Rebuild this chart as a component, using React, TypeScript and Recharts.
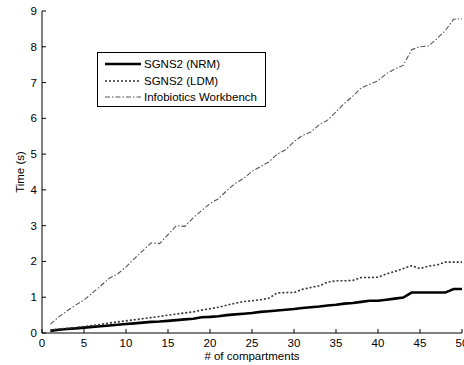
import { Legend, Line, LineChart, XAxis, YAxis } from "recharts";

const compartments = [
  1, 2, 3, 4, 5, 6, 7, 8, 9, 10, 11, 12, 13, 14, 15, 16, 17, 18, 19, 20, 21, 22, 23, 24, 25,
  26, 27, 28, 29, 30, 31, 32, 33, 34, 35, 36, 37, 38, 39, 40, 41, 42, 43, 44, 45, 46, 47, 48, 49, 50,
];

const nrm = [
  0.06, 0.09, 0.11, 0.13, 0.15, 0.17, 0.19, 0.21, 0.23, 0.25, 0.27, 0.29, 0.31, 0.32, 0.34, 0.36, 0.38,
  0.4, 0.44, 0.45, 0.47, 0.5, 0.52, 0.54, 0.56, 0.59, 0.61, 0.63, 0.65, 0.67, 0.7, 0.72, 0.74, 0.77, 0.79,
  0.82, 0.84, 0.87, 0.9, 0.9, 0.93, 0.96, 0.99, 1.13, 1.13, 1.13, 1.13, 1.13, 1.23, 1.23,
];

const ldm = [
  0.08, 0.11, 0.13, 0.15, 0.18, 0.21, 0.24, 0.28, 0.31, 0.34, 0.37, 0.4, 0.43, 0.46, 0.5, 0.53, 0.56,
  0.59, 0.64, 0.68, 0.72, 0.78, 0.83, 0.88, 0.9, 0.93, 0.97, 1.12, 1.13, 1.13, 1.22, 1.27, 1.32, 1.42, 1.46,
  1.46, 1.47, 1.55, 1.55, 1.56, 1.65, 1.72, 1.8, 1.88, 1.8, 1.87, 1.9, 1.98, 1.98, 1.98,
];

const infobiotics = [
  0.25, 0.45, 0.62, 0.78, 0.92, 1.12, 1.32, 1.53, 1.65, 1.85, 2.08, 2.3, 2.52, 2.5, 2.75, 3.0, 2.98,
  3.22, 3.42, 3.62, 3.75, 3.98, 4.18, 4.32, 4.52, 4.65, 4.78, 5.0, 5.12, 5.35, 5.52, 5.62, 5.82, 5.95, 6.18,
  6.42, 6.62, 6.85, 6.95, 7.05, 7.25, 7.38, 7.48, 7.92, 8.0, 8.02, 8.22, 8.45, 8.77, 8.78,
];

const seriesNames = ["SGNS2 (NRM)", "SGNS2 (LDM)", "Infobiotics Workbench"];
const xTicks = [0, 5, 10, 15, 20, 25, 30, 35, 40, 45, 50];
const yTicks = [0, 1, 2, 3, 4, 5, 6, 7, 8, 9];

const data = compartments.map((n, i) => ({
  n,
  nrm: nrm[i],
  ldm: ldm[i],
  iwb: infobiotics[i],
}));

const FONT = "'Liberation Sans', Arial, sans-serif";
const TICK_LEN = 4;

const seriesStyle: Record<string, { stroke: string; width: number; dash?: string }> = {
  "SGNS2 (NRM)": { stroke: "#000", width: 2.6 },
  "SGNS2 (LDM)": { stroke: "#333", width: 1.6, dash: "2 2" },
  "Infobiotics Workbench": { stroke: "#555", width: 1.1, dash: "5 2 1.5 2" },
};

function BottomTick({ x, y, payload }: any) {
  return (
    <g>
      <line x1={x} x2={x} y1={y} y2={y - TICK_LEN} stroke="#000" />
      <text x={x} y={y + 14} textAnchor="middle" fontSize={11.5} fontFamily={FONT} fill="#000">
        {payload.value}
      </text>
    </g>
  );
}

function TopTick({ x, y }: any) {
  return <line x1={x} x2={x} y1={y} y2={y + TICK_LEN} stroke="#000" />;
}

function LeftTick({ x, y, payload }: any) {
  return (
    <g>
      <line x1={x} x2={x + TICK_LEN} y1={y} y2={y} stroke="#000" />
      <text x={x - 5} y={y + 4} textAnchor="end" fontSize={11.5} fontFamily={FONT} fill="#000">
        {payload.value}
      </text>
    </g>
  );
}

function RightTick({ x, y }: any) {
  return <line x1={x} x2={x - TICK_LEN} y1={y} y2={y} stroke="#000" />;
}

function LegendBox({ payload }: any) {
  const items = [...(payload ?? [])].sort(
    (a: any, b: any) => seriesNames.indexOf(a.value) - seriesNames.indexOf(b.value)
  );
  return (
    <div
      style={{
        border: "1.5px solid #000",
        background: "#fff",
        padding: "3px 0 3px 7px",
        fontFamily: FONT,
        fontSize: 11.5,
        boxSizing: "border-box",
        width: 169,
        height: 55,
      }}
    >
      {items.map((p: any) => {
        const s = seriesStyle[p.value];
        return (
          <div key={p.value} style={{ display: "flex", alignItems: "center", height: 16.5 }}>
            <svg width={36} height={10} style={{ marginRight: 3 }}>
              <line
                x1={0}
                x2={36}
                y1={5}
                y2={5}
                stroke={s.stroke}
                strokeWidth={s.width}
                strokeDasharray={s.dash}
              />
            </svg>
            <span>{p.value}</span>
          </div>
        );
      })}
    </div>
  );
}

export default function App() {
  return (
    <div style={{ position: "absolute", left: 0, top: 0, width: 464, height: 365, background: "#fff" }}>
      <LineChart width={464} height={365} data={data} margin={{ top: 11, right: 2, bottom: 0, left: 0 }}>
        <XAxis
          dataKey="n"
          type="number"
          domain={[0, 50]}
          ticks={xTicks}
          interval={0}
          height={32}
          tickSize={0}
          tickMargin={0}
          tickLine={false}
          tick={<BottomTick />}
          axisLine={{ stroke: "#000" }}
          label={{
            content: () => (
              <text x={252} y={360} textAnchor="middle" fontSize={11.5} fontFamily={FONT} fill="#000">
                # of compartments
              </text>
            ),
          }}
        />
        <XAxis
          xAxisId="top"
          orientation="top"
          dataKey="n"
          type="number"
          domain={[0, 50]}
          ticks={xTicks}
          interval={0}
          height={0}
          tickSize={0}
          tickMargin={0}
          tickLine={false}
          tick={<TopTick />}
          axisLine={{ stroke: "#000" }}
        />
        <YAxis
          type="number"
          domain={[0, 9]}
          ticks={yTicks}
          interval={0}
          width={42}
          tickSize={0}
          tickMargin={0}
          tickLine={false}
          tick={<LeftTick />}
          axisLine={{ stroke: "#000" }}
          label={{
            content: () => (
              <text
                x={20}
                y={172}
                transform="rotate(-90, 20, 172)"
                textAnchor="middle"
                dominantBaseline="central"
                fontSize={11.5}
                fontFamily={FONT}
                fill="#000"
              >
                Time (s)
              </text>
            ),
          }}
        />
        <YAxis
          yAxisId="right"
          orientation="right"
          type="number"
          domain={[0, 9]}
          ticks={yTicks}
          interval={0}
          width={0}
          tickSize={0}
          tickMargin={0}
          tickLine={false}
          tick={<RightTick />}
          axisLine={{ stroke: "#000" }}
        />
        <Legend
          layout="horizontal"
          verticalAlign="middle"
          align="center"
          itemSorter={null}
          content={<LegendBox />}
          wrapperStyle={{ left: 97, top: 52, width: 169, height: 55 }}
        />
        <Line
          name="SGNS2 (NRM)"
          dataKey="nrm"
          stroke="#000"
          strokeWidth={2.6}
          dot={false}
          isAnimationActive={false}
        />
        <Line
          name="SGNS2 (LDM)"
          dataKey="ldm"
          stroke="#333"
          strokeWidth={1.6}
          strokeDasharray="2 2"
          dot={false}
          isAnimationActive={false}
        />
        <Line
          name="Infobiotics Workbench"
          dataKey="iwb"
          stroke="#555"
          strokeWidth={1.1}
          strokeDasharray="5 2 1.5 2"
          dot={false}
          isAnimationActive={false}
        />
      </LineChart>
    </div>
  );
}
